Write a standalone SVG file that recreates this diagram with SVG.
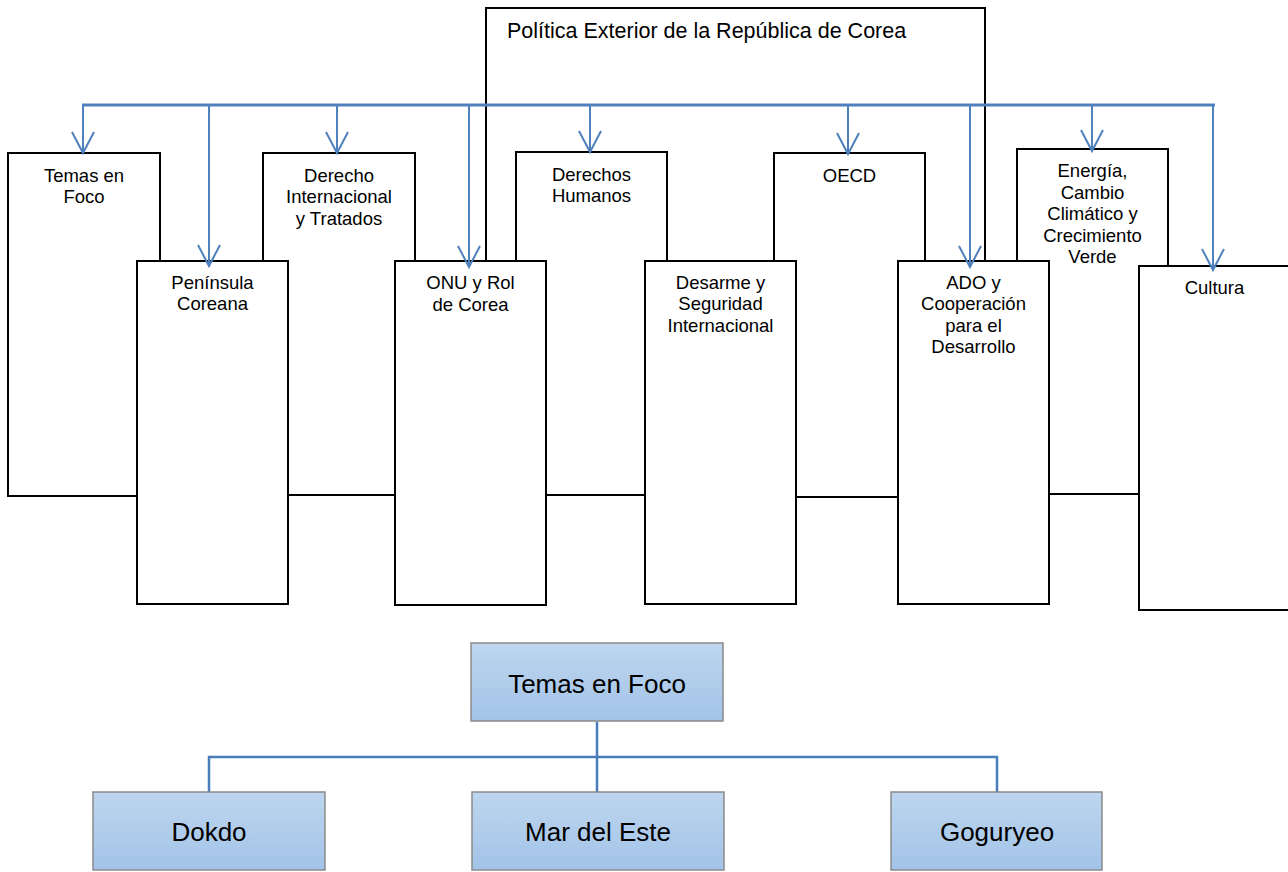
<svg xmlns="http://www.w3.org/2000/svg" width="1288" height="872" viewBox="0 0 1288 872">
<style>
.box{fill:#fff;stroke:#000;stroke-width:2}
.t{font-family:"Liberation Sans",Arial,sans-serif;font-size:18.5px;fill:#000;text-anchor:middle}
.title{font-family:"Liberation Sans",Arial,sans-serif;font-size:21.5px;fill:#000}
.bl{stroke:#4F81BD;fill:none}
.bbox{fill:url(#g);stroke:#8A8A8A;stroke-width:1.5}
.bt{font-family:"Liberation Sans",Arial,sans-serif;font-size:26px;fill:#000;text-anchor:middle}
.tc{stroke:#4A7EBB;stroke-width:2.5;fill:none}
</style>
<defs>
<linearGradient id="g" x1="0" y1="0" x2="0" y2="1">
<stop offset="0" stop-color="#BED6EE"/>
<stop offset="1" stop-color="#A2C3E8"/>
</linearGradient>
<marker id="arr" markerUnits="userSpaceOnUse" markerWidth="26" markerHeight="26" refX="22" refY="12" orient="auto" viewBox="0 0 26 24">
<path d="M1,1 L22,12 L1,23" fill="none" stroke="#4F81BD" stroke-width="2"/>
</marker>
</defs>
<rect width="1288" height="872" fill="#fff"/>

<g id="politica">
<rect class="box" x="486" y="8" width="499" height="300"/>
<text class="title" x="507" y="38">Política Exterior de la República de Corea</text>
</g>

<g id="temas">
<rect class="box" x="8" y="153" width="152" height="343"/>
<text class="t" x="84" y="182">Temas en<tspan x="84" dy="21.3">Foco</tspan></text>
</g>
<g id="derecho">
<rect class="box" x="263" y="153" width="152" height="342"/>
<text class="t" x="339" y="182">Derecho<tspan x="339" dy="21.3">Internacional</tspan><tspan x="339" dy="21.3">y Tratados</tspan></text>
</g>
<g id="derechos-humanos">
<rect class="box" x="516" y="152" width="151" height="343"/>
<text class="t" x="591.5" y="181">Derechos<tspan x="591.5" dy="21.3">Humanos</tspan></text>
</g>
<g id="oecd">
<rect class="box" x="774" y="153" width="151" height="344"/>
<text class="t" x="849.5" y="182">OECD</text>
</g>
<g id="energia">
<rect class="box" x="1017" y="149" width="151" height="345"/>
<text class="t" x="1092.5" y="177">Energía,<tspan x="1092.5" dy="21.5">Cambio</tspan><tspan x="1092.5" dy="21.5">Climático y</tspan><tspan x="1092.5" dy="21.5">Crecimiento</tspan><tspan x="1092.5" dy="21.5">Verde</tspan></text>
</g>
<g id="peninsula">
<rect class="box" x="137" y="261" width="151" height="343"/>
<text class="t" x="212.5" y="289">Península<tspan x="212.5" dy="21.3">Coreana</tspan></text>
</g>
<g id="onu">
<rect class="box" x="395" y="261" width="151" height="344"/>
<text class="t" x="470.5" y="289">ONU y Rol<tspan x="470.5" dy="21.5">de Corea</tspan></text>
</g>
<g id="desarme">
<rect class="box" x="645" y="261" width="151" height="343"/>
<text class="t" x="720.5" y="289">Desarme y<tspan x="720.5" dy="21.3">Seguridad</tspan><tspan x="720.5" dy="21.3">Internacional</tspan></text>
</g>
<g id="ado">
<rect class="box" x="898" y="261" width="151" height="343"/>
<text class="t" x="973.5" y="289">ADO y<tspan x="973.5" dy="21.3">Cooperación</tspan><tspan x="973.5" dy="21.3">para el</tspan><tspan x="973.5" dy="21.3">Desarrollo</tspan></text>
</g>
<g id="cultura">
<rect class="box" x="1139" y="266" width="152" height="344"/>
<text class="t" x="1214.5" y="294">Cultura</text>
</g>

<g id="connectors">
<line class="bl" x1="82" y1="105" x2="1215" y2="105" stroke-width="3"/>
<line class="bl" stroke-width="2" x1="83" y1="104" x2="83" y2="153" marker-end="url(#arr)"/>
<line class="bl" stroke-width="2" x1="209" y1="104" x2="209" y2="266" marker-end="url(#arr)"/>
<line class="bl" stroke-width="2" x1="337" y1="104" x2="337" y2="153" marker-end="url(#arr)"/>
<line class="bl" stroke-width="2" x1="469" y1="104" x2="469" y2="267" marker-end="url(#arr)"/>
<line class="bl" stroke-width="2" x1="590" y1="104" x2="590" y2="152" marker-end="url(#arr)"/>
<line class="bl" stroke-width="2" x1="848" y1="104" x2="848" y2="154" marker-end="url(#arr)"/>
<line class="bl" stroke-width="2" x1="970" y1="104" x2="970" y2="267" marker-end="url(#arr)"/>
<line class="bl" stroke-width="2" x1="1092" y1="104" x2="1092" y2="151" marker-end="url(#arr)"/>
<line class="bl" stroke-width="2" x1="1213" y1="104" x2="1213" y2="270" marker-end="url(#arr)"/>
<path class="tc" d="M597,722 V792 M209,792 V757 H997 V792"/>
</g>

<g id="temas-foco">
<rect class="bbox" x="471" y="643" width="252" height="78"/>
<text class="bt" x="597" y="693">Temas en Foco</text>
</g>
<g id="dokdo">
<rect class="bbox" x="93" y="792" width="232" height="78"/>
<text class="bt" x="209" y="841">Dokdo</text>
</g>
<g id="mar-del-este">
<rect class="bbox" x="472" y="792" width="252" height="78"/>
<text class="bt" x="598" y="841">Mar del Este</text>
</g>
<g id="goguryeo">
<rect class="bbox" x="891" y="792" width="211" height="78"/>
<text class="bt" x="997" y="841">Goguryeo</text>
</g>
</svg>
